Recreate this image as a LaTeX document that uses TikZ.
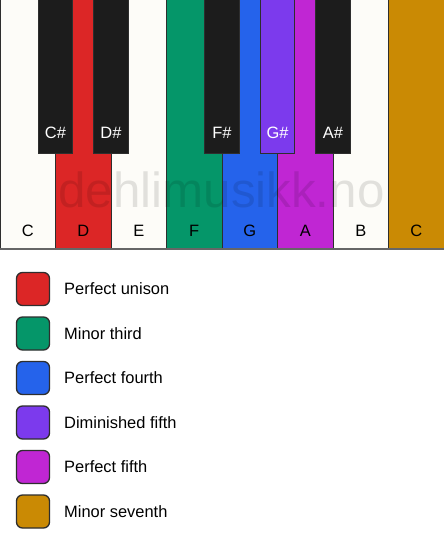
\documentclass[tikz,border=0pt]{standalone}
\usepackage{fontspec}
\setmainfont{Liberation Sans}
\definecolor{kwhite}{HTML}{FDFCF8}
\definecolor{kblack}{HTML}{1C1C1C}
\definecolor{kred}{HTML}{DC2626}
\definecolor{kgreen}{HTML}{059669}
\definecolor{kblue}{HTML}{2563EB}
\definecolor{kviolet}{HTML}{7C3AED}
\definecolor{kmagenta}{HTML}{C026D3}
\definecolor{kgold}{HTML}{CA8A04}
\definecolor{kedge}{HTML}{2E2E2E}
\begin{document}
\begin{tikzpicture}[x=1bp,y=-1bp,
  whitekey/.style={draw=kedge, line width=1bp, fill=kwhite, minimum width=55.5bp, minimum height=249bp, anchor=north west, inner sep=0pt, outer sep=0pt},
  blackkey/.style={draw=kedge, line width=1bp, fill=kblack, minimum width=34.5bp, minimum height=153bp, anchor=north, inner sep=0pt, outer sep=0pt},
  wlabel/.style={font=\fontsize{16.5}{19}\selectfont, text=black, anchor=base, inner sep=0pt},
  blabel/.style={font=\fontsize{16.5}{19}\selectfont, text=white, anchor=base, inner sep=0pt},
  swatch/.style={draw=kedge, line width=1.3bp, rounded corners=6bp, minimum width=33bp, minimum height=33bp, inner sep=0pt},
  legtext/.style={font=\fontsize{16.5}{19}\selectfont, anchor=west, inner sep=0pt}
]
\useasboundingbox (0,0) rectangle (444,550);
\fill[white] (0,0) rectangle (444,550);
% white keys
\node[whitekey] (wC) at (0,0) {};
\node[whitekey, fill=kred] (wD) at (55.5,0) {};
\node[whitekey] (wE) at (111,0) {};
\node[whitekey, fill=kgreen] (wF) at (166.5,0) {};
\node[whitekey, fill=kblue] (wG) at (222,0) {};
\node[whitekey, fill=kmagenta] (wA) at (277.5,0) {};
\node[whitekey] (wB) at (333,0) {};
\node[whitekey, fill=kgold] (wC2) at (388.5,0) {};
% bottom gray line
\draw[line width=2bp, color=gray!80!black] (wC.south west) -- (wC2.south east);
% watermark
\node[font=\fontsize{49.5}{50}\selectfont, text=black, opacity=0.11, anchor=base, inner sep=0pt] (wm) at (221.5,208) {dehlimusikk.no};
% black keys
\node[blackkey] (bC) at (55.5,0) {};
\node[blackkey] (bD) at (111,0) {};
\node[blackkey] (bF) at (222,0) {};
\node[blackkey, fill=kviolet] (bG) at (277.5,0) {};
\node[blackkey] (bA) at (333,0) {};
% labels
\foreach \k/\t in {wC/C, wD/D, wE/E, wF/F, wG/G, wA/A, wB/B, wC2/C}
  \node[wlabel] (l\k) at ([yshift=13bp]\k.south) {\t};
\foreach \k/\t in {bC/C\#, bD/D\#, bF/F\#, bG/G\#, bA/A\#}
  \node[blabel] (l\k) at ([yshift=14.5bp]\k.south) {\t};
% legend
\foreach \i/\c/\t in {0/kred/Perfect unison, 1/kgreen/Minor third, 2/kblue/Perfect fourth, 3/kviolet/Diminished fifth, 4/kmagenta/Perfect fifth, 5/kgold/Minor seventh}{
  \node[swatch, fill=\c] (s\i) at (33, 289+44.5*\i) {};
  \node[legtext] (t\i) at (64, 289+44.5*\i) {\t};
}
\end{tikzpicture}
\end{document}
